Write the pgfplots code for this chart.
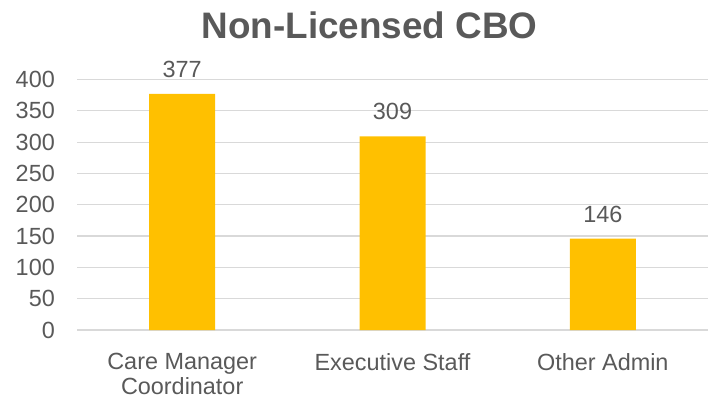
\documentclass[border=0pt]{standalone}
\usepackage{pgfplots}
\pgfplotsset{compat=1.18}
\usepackage{fontspec}
\setmainfont{Liberation Sans}
\definecolor{barc}{HTML}{FFC000}
\definecolor{txt}{HTML}{595959}
\definecolor{grid}{HTML}{D9D9D9}
\begin{document}
\begin{tikzpicture}
\useasboundingbox (0,0) rectangle (708bp,400bp);
\begin{axis}[
  at={(77bp,70bp)}, anchor=south west,
  scale only axis, width=631bp, height=250.5bp,
  /pgf/number format/assume math mode=true,
  xmin=-0.5, xmax=2.5, ymin=0, ymax=400,
  ytick={0,50,...,400},
  xtick={0,1,2},
  xticklabels={{Care Manager\\Coordinator},{Executive Staff},{Other Admin}},
  axis line style={draw=none},
  tick style={draw=none},
  ymajorgrids,
  major grid style={draw=grid, line width=1.2bp},
  yticklabel style={font=\fontsize{23.5}{28}\selectfont, text=txt, anchor=east, inner sep=0pt, xshift=-22bp},
  xticklabel style={font=\fontsize{23.5}{25}\selectfont, text=txt, anchor=north, align=center, inner sep=0pt, yshift=-19bp},
  ybar, bar width=66bp,
  nodes near coords,
  nodes near coords style={font=\fontsize{23.5}{28}\selectfont, text=txt, anchor=base, yshift=16.5bp, inner sep=0pt},
  clip=false,
]
\addplot[fill=barc, draw=none] coordinates {(0,377) (1,309) (2,146)};
\end{axis}
\node[anchor=base, inner sep=0pt, text=txt, font=\fontsize{37}{44}\selectfont\bfseries] at (369.5bp,361bp) {Non-Licensed CBO};
\end{tikzpicture}
\end{document}
